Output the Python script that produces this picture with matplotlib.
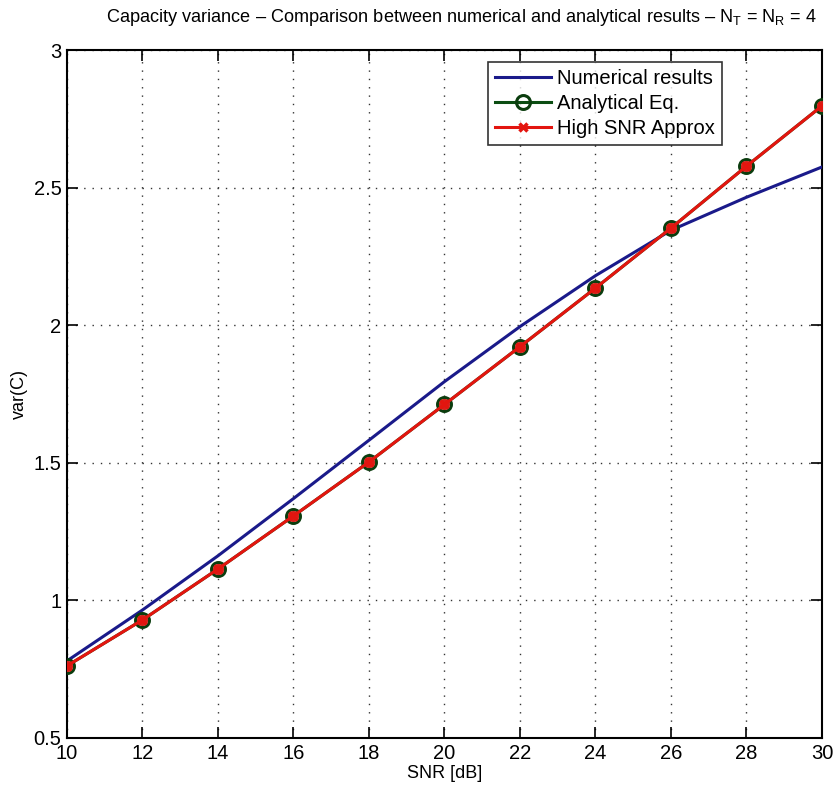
import matplotlib
matplotlib.use("Agg")
import matplotlib.pyplot as plt
from matplotlib import font_manager

snr = [10, 12, 14, 16, 18, 20, 22, 24, 26, 28, 30]
numerical = [0.78, 0.965, 1.162, 1.37, 1.582, 1.795, 1.995, 2.18, 2.345, 2.465, 2.575]
analytical = [0.762, 0.929, 1.114, 1.307, 1.503, 1.712, 1.922, 2.135, 2.353, 2.578, 2.797]
high_snr = [0.762, 0.929, 1.114, 1.307, 1.503, 1.712, 1.922, 2.135, 2.353, 2.578, 2.797]
xticks = [10, 12, 14, 16, 18, 20, 22, 24, 26, 28, 30]
yticks = [0.5, 1, 1.5, 2, 2.5, 3]
yticklabels = ["0.5", "1", "1.5", "2", "2.5", "3"]

names = {f.name for f in font_manager.fontManager.ttflist}
fam = "Liberation Sans Narrow" if "Liberation Sans Narrow" in names else "Liberation Sans"
plt.rcParams['font.family'] = [fam, 'DejaVu Sans']
plt.rcParams['mathtext.fontset'] = 'custom'
plt.rcParams['mathtext.rm'] = fam

fig = plt.figure(figsize=(8.34, 7.88), dpi=100)
ax = fig.add_axes([0.0803, 0.0635, 0.9053, 0.873])

ax.plot(snr, numerical, color='#1a1a8a', lw=2.2, label='Numerical results', zorder=3)
ax.plot(snr, analytical, color='#0b4d12', lw=2.2, marker='o', ms=10, mfc='none',
        mec='#0b3d0e', mew=2.2, label='Analytical Eq.', zorder=4)
ax.plot(snr, high_snr, color='#e3150f', lw=2.2, marker='x', ms=6, mew=2.5,
        mec='#e3150f', label='High SNR Approx', zorder=5)
ax.plot(snr, analytical, ls='none', marker='o', ms=8, mfc='#d8201a', mec='none', zorder=4.5)

ax.set_xlim(10, 30)
ax.set_ylim(0.5, 3)
ax.set_xticks(xticks)
ax.set_yticks(yticks)
ax.set_yticklabels(yticklabels)
ax.tick_params(direction='in', length=8, width=1.2, top=True, right=True,
               labelsize=14.5, pad=4)
ax.grid(True, color='#333333', linestyle=(0, (1, 5)), lw=1.0)
for s in ax.spines.values():
    s.set_linewidth(1.5)

ax.set_xlabel('SNR [dB]', fontsize=13, labelpad=2)
ax.set_ylabel('var(C)', fontsize=13, labelpad=4)
ax.set_title(r'Capacity variance – Comparison between numerical and analytical results – N$_\mathrm{T}$ = N$_\mathrm{R}$ = 4',
             fontsize=13.1, pad=20, x=0.522)

leg = ax.legend(loc='upper right', bbox_to_anchor=(0.8675, 0.983), fontsize=14.5,
                frameon=True, fancybox=False, edgecolor='black', handlelength=2.8,
                borderpad=0.35, labelspacing=0.3, handletextpad=0.3, borderaxespad=0)
leg.get_frame().set_linewidth(1.2)

fig.savefig('out.png', dpi=100, facecolor='white')
